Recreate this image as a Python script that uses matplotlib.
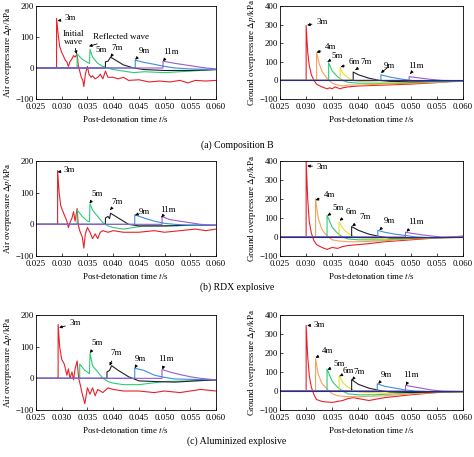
import matplotlib
matplotlib.use('Agg')
import matplotlib.pyplot as plt
from matplotlib.ticker import FormatStrFormatter, MultipleLocator

plt.rcParams['font.family'] = ['Liberation Serif', 'DejaVu Serif']
plt.rcParams['mathtext.fontset'] = 'stix'

# curves: (time s, overpressure kPa)
air_b = {
    '3m': [(0.025, 0), (0.0290, 0), (0.0290, 160), (0.0293, 110), (0.0296, 70), (0.0300, 50), (0.0303, 40),
           (0.0307, 25), (0.0310, 20), (0.0313, 5), (0.0316, 20), (0.0320, 30), (0.0323, 40), (0.0326, 35),
           (0.0330, 45), (0.0332, 10), (0.0335, -10), (0.0338, -30), (0.0341, -40), (0.0343, -60),
           (0.0346, -20), (0.0350, 5), (0.0353, -20), (0.0357, -30), (0.0360, -25), (0.0365, -35),
           (0.0370, -30), (0.0375, -20), (0.0380, -35), (0.0385, -10), (0.0390, -30), (0.0400, -30),
           (0.0410, -35), (0.0420, -30), (0.0430, -40), (0.0450, -38), (0.0470, -45), (0.0490, -42),
           (0.0510, -45), (0.0530, -40), (0.0545, -48), (0.0560, -40), (0.0580, -42), (0.0600, -40)],
    '5m': [(0.025, 0), (0.0330, 0), (0.0330, 45), (0.0340, 28), (0.0350, 18), (0.0354, 15), (0.0355, 60),
           (0.0360, 35), (0.0370, 15), (0.0380, 5), (0.0390, 0), (0.0400, -5), (0.0420, -10), (0.0440, -15),
           (0.0460, -12), (0.0500, -15), (0.0550, -10), (0.0600, -5)],
    '7m': [(0.025, 0), (0.0385, 0), (0.0385, 20), (0.0390, 22), (0.0395, 35), (0.0410, 20), (0.0420, 10),
           (0.0430, 5), (0.0440, 0), (0.0460, -5), (0.0500, -8), (0.0550, -8), (0.0600, -5)],
    '9m': [(0.025, 0), (0.0443, 0), (0.0443, 25), (0.0460, 18), (0.0480, 12), (0.0500, 5), (0.0520, 0),
           (0.0550, -3), (0.0600, -5)],
    '11m': [(0.025, 0), (0.0497, 0), (0.0497, 22), (0.0520, 15), (0.0540, 10), (0.0560, 5), (0.0580, 0),
            (0.0600, -3)],
}

ground_b = {
    '3m': [(0.025, 0), (0.0300, 0), (0.0300, 295), (0.0303, 150), (0.0306, 80), (0.0310, 30), (0.0315, 0),
           (0.0320, -20), (0.0330, -35), (0.0340, -45), (0.0345, -40), (0.0350, -45), (0.0355, -35),
           (0.0360, -40), (0.0365, -45), (0.0370, -40), (0.0380, -35), (0.0400, -30), (0.0450, -25),
           (0.0500, -20), (0.0550, -12), (0.0580, -5), (0.0600, -5)],
    '4m': [(0.025, 0), (0.0320, 0), (0.0320, 150), (0.0325, 90), (0.0330, 50), (0.0340, 10), (0.0350, -15),
           (0.0360, -25), (0.0370, -30), (0.0380, -25), (0.0400, -25), (0.0450, -20), (0.0500, -15),
           (0.0550, -10), (0.0600, -5)],
    '5m': [(0.025, 0), (0.0343, 0), (0.0343, 95), (0.0350, 50), (0.0360, 20), (0.0370, 0), (0.0380, -10),
           (0.0400, -15), (0.0450, -15), (0.0500, -12), (0.0550, -8), (0.0600, -5)],
    '6m': [(0.025, 0), (0.0365, 0), (0.0365, 70), (0.0370, 40), (0.0380, 15), (0.0390, 0), (0.0400, -5),
           (0.0450, -12), (0.0500, -10), (0.0550, -7), (0.0600, -4)],
    '7m': [(0.025, 0), (0.0390, 0), (0.0390, 45), (0.0400, 30), (0.0420, 12), (0.0440, 0), (0.0460, -5),
           (0.0500, -8), (0.0550, -5), (0.0600, -3)],
    '9m': [(0.025, 0), (0.0443, 0), (0.0443, 30), (0.0460, 18), (0.0480, 8), (0.0500, 0), (0.0530, -4),
           (0.0600, -3)],
    '11m': [(0.025, 0), (0.0497, 0), (0.0497, 20), (0.0520, 12), (0.0540, 5), (0.0560, 0), (0.0600, -2)],
}

air_rdx = {
    '3m': [(0.025, 0), (0.0292, 0), (0.0292, 170), (0.0295, 100), (0.0298, 60), (0.0300, 50), (0.0305, 30),
           (0.0310, 10), (0.0313, -10), (0.0316, 5), (0.0320, 20), (0.0323, 40), (0.0326, 10), (0.0330, 50),
           (0.0332, 0), (0.0335, -20), (0.0340, -40), (0.0343, -75), (0.0346, -30), (0.0350, -10),
           (0.0355, -25), (0.0360, -45), (0.0365, -30), (0.0370, -45), (0.0375, -25), (0.0380, -20),
           (0.0390, -25), (0.0400, -20), (0.0420, -25), (0.0450, -25), (0.0480, -20), (0.0500, -25),
           (0.0530, -20), (0.0560, -15), (0.0580, -20), (0.0600, -15)],
    '5m': [(0.025, 0), (0.0330, 0), (0.0330, 45), (0.0340, 25), (0.0350, 10), (0.0354, 8), (0.0355, 65),
           (0.0360, 45), (0.0370, 25), (0.0380, 5), (0.0390, -5), (0.0400, -10), (0.0420, -15),
           (0.0440, -10), (0.0460, -5), (0.0500, -5), (0.0550, -3), (0.0600, -3)],
    '7m': [(0.025, 0), (0.0385, 0), (0.0385, 20), (0.0390, 25), (0.0393, 18), (0.0395, 35), (0.0410, 20),
           (0.0420, 10), (0.0430, 0), (0.0450, -5), (0.0500, -5), (0.0550, -3), (0.0600, -3)],
    '9m': [(0.025, 0), (0.0442, 0), (0.0442, 30), (0.0460, 20), (0.0480, 10), (0.0500, 3), (0.0520, 0),
           (0.0550, -3), (0.0600, -3)],
    '11m': [(0.025, 0), (0.0495, 0), (0.0495, 25), (0.0510, 15), (0.0530, 10), (0.0550, 5), (0.0570, 0),
            (0.0600, -3)],
}

ground_rdx = {
    '3m': [(0.025, 0), (0.0300, 0), (0.0300, 400), (0.0303, 200), (0.0306, 80), (0.0310, 20), (0.0315, -20),
           (0.0320, -40), (0.0330, -55), (0.0340, -65), (0.0350, -55), (0.0360, -60), (0.0370, -50),
           (0.0380, -45), (0.0400, -40), (0.0420, -35), (0.0450, -25), (0.0500, -15), (0.0550, -5),
           (0.0580, 0), (0.0600, 5)],
    '4m': [(0.025, 0), (0.0318, 0), (0.0318, 200), (0.0323, 100), (0.0330, 40), (0.0340, 5), (0.0350, -15),
           (0.0360, -20), (0.0380, -25), (0.0400, -25), (0.0450, -20), (0.0500, -10), (0.0550, -5),
           (0.0600, 0)],
    '5m': [(0.025, 0), (0.0340, 0), (0.0340, 115), (0.0350, 50), (0.0360, 20), (0.0370, 0), (0.0380, -10),
           (0.0400, -15), (0.0450, -15), (0.0500, -8), (0.0550, -3), (0.0600, 0)],
    '6m': [(0.025, 0), (0.0363, 0), (0.0363, 80), (0.0370, 45), (0.0380, 20), (0.0390, 5), (0.0400, -5),
           (0.0450, -10), (0.0500, -8), (0.0600, -2)],
    '7m': [(0.025, 0), (0.0387, 0), (0.0387, 55), (0.0400, 35), (0.0420, 15), (0.0440, 3), (0.0460, -5),
           (0.0500, -5), (0.0600, -2)],
    '9m': [(0.025, 0), (0.0437, 0), (0.0437, 35), (0.0450, 25), (0.0470, 15), (0.0490, 8), (0.0510, 0),
           (0.0540, -4), (0.0600, -2)],
    '11m': [(0.025, 0), (0.0490, 0), (0.0490, 25), (0.0505, 18), (0.0520, 12), (0.0540, 5), (0.0560, 0),
            (0.0600, 0)],
}

air_al = {
    '3m': [(0.025, 0), (0.0293, 0), (0.0293, 170), (0.0296, 100), (0.0300, 60), (0.0305, 45), (0.0310, 10),
           (0.0313, 30), (0.0316, 0), (0.0320, 20), (0.0323, -5), (0.0326, 30), (0.0330, 55), (0.0333, 0),
           (0.0336, -20), (0.0340, -50), (0.0345, -80), (0.0350, -30), (0.0355, -50), (0.0360, -30),
           (0.0365, -55), (0.0370, -35), (0.0380, -45), (0.0390, -30), (0.0400, -35), (0.0420, -40),
           (0.0450, -40), (0.0480, -45), (0.0500, -40), (0.0530, -45), (0.0550, -40), (0.0570, -35),
           (0.0600, -40)],
    '5m': [(0.025, 0), (0.0335, 0), (0.0335, 45), (0.0345, 25), (0.0354, 15), (0.0355, 80), (0.0360, 40),
           (0.0370, 20), (0.0380, 0), (0.0390, -10), (0.0400, -15), (0.0420, -20), (0.0450, -20),
           (0.0500, -10), (0.0550, -8), (0.0600, -5)],
    '7m': [(0.025, 0), (0.0388, 0), (0.0388, 20), (0.0393, 25), (0.0397, 40), (0.0410, 25), (0.0430, 5),
           (0.0450, -8), (0.0480, -10), (0.0520, -12), (0.0560, -8), (0.0600, -5)],
    '9m': [(0.025, 0), (0.0442, 0), (0.0442, 32), (0.0460, 25), (0.0480, 10), (0.0500, 3), (0.0520, -2),
           (0.0600, -5)],
    '11m': [(0.025, 0), (0.0495, 0), (0.0495, 28), (0.0510, 20), (0.0530, 12), (0.0550, 5), (0.0570, 0),
            (0.0600, -5)],
}

ground_al = {
    '3m': [(0.025, 0), (0.0300, 0), (0.0300, 345), (0.0303, 180), (0.0306, 80), (0.0310, 20), (0.0315, -20),
           (0.0320, -45), (0.0330, -55), (0.0340, -58), (0.0350, -60), (0.0360, -55), (0.0370, -50),
           (0.0380, -40), (0.0390, -35), (0.0400, -40), (0.0410, -45), (0.0420, -50), (0.0430, -45),
           (0.0450, -35), (0.0500, -20), (0.0550, -8), (0.0600, -5)],
    '4m': [(0.025, 0), (0.0318, 0), (0.0318, 170), (0.0323, 90), (0.0330, 40), (0.0340, 10), (0.0350, -15),
           (0.0360, -25), (0.0380, -30), (0.0400, -30), (0.0450, -25), (0.0500, -15), (0.0550, -8),
           (0.0600, -5)],
    '5m': [(0.025, 0), (0.0340, 0), (0.0340, 115), (0.0350, 50), (0.0360, 20), (0.0370, 0), (0.0380, -15),
           (0.0400, -20), (0.0430, -20), (0.0500, -10), (0.0550, -5), (0.0600, -3)],
    '6m': [(0.025, 0), (0.0363, 0), (0.0363, 80), (0.0370, 45), (0.0380, 20), (0.0390, 5), (0.0400, -5),
           (0.0450, -12), (0.0500, -8), (0.0600, -3)],
    '7m': [(0.025, 0), (0.0387, 0), (0.0387, 60), (0.0400, 35), (0.0420, 15), (0.0440, 3), (0.0460, -5),
           (0.0500, -8), (0.0600, -3)],
    '9m': [(0.025, 0), (0.0436, 0), (0.0436, 38), (0.0450, 25), (0.0470, 15), (0.0490, 5), (0.0510, 0),
           (0.0550, -4), (0.0600, -3)],
    '11m': [(0.025, 0), (0.0490, 0), (0.0490, 30), (0.0505, 22), (0.0520, 15), (0.0540, 5), (0.0560, 0),
            (0.0600, -2)],
}

colors = {'3m': '#e8202a', '4m': '#f5a35a', '5m': '#2ecc75', '6m': '#ecdc3a',
          '7m': '#202028', '9m': '#3a8fdc', '11m': '#9a5ad0'}

# (label, text position, arrow tip)
labels_air_b = [('3m', (0.0305, 160), (0.0292, 152)), ('5m', (0.0365, 58), None),
                ('7m', (0.0397, 66), (0.0395, 35)), ('9m', (0.0449, 55), (0.0443, 27)),
                ('11m', (0.0498, 53), (0.0497, 22))]
labels_ground_b = [('3m', (0.0319, 313), (0.0302, 297)), ('4m', (0.0336, 177), (0.0320, 150)),
                   ('5m', (0.0349, 132), (0.0341, 100)), ('6m', (0.0381, 97), (0.0366, 72)),
                   ('7m', (0.0403, 97), (0.0394, 55)), ('9m', (0.0448, 76), (0.0443, 40)),
                   ('11m', (0.0496, 76), (0.0499, 35))]
labels_air_rdx = [('3m', (0.0303, 171), (0.0292, 165)), ('5m', (0.0358, 97), (0.0354, 66)),
                  ('7m', (0.0397, 71), (0.0394, 45)), ('9m', (0.0449, 40), (0.0443, 29)),
                  ('11m', (0.0491, 45), (0.0494, 22))]
labels_ground_rdx = [('3m', (0.0320, 370), (0.0302, 374)), ('4m', (0.0333, 220), (0.0318, 194)),
                     ('5m', (0.0351, 152), (0.0341, 112)), ('6m', (0.0376, 134), (0.0364, 86)),
                     ('7m', (0.0401, 103), (0.0388, 57)), ('9m', (0.0448, 82), (0.0440, 36)),
                     ('11m', (0.0496, 77), (0.0492, 28))]
labels_air_al = [('3m', (0.0315, 174), (0.0295, 160)), ('5m', (0.0358, 112), (0.0355, 80)),
                 ('7m', (0.0394, 80), (0.0393, 40)), ('9m', (0.0442, 62), (0.0442, 32)),
                 ('11m', (0.0488, 62), (0.0496, 28))]
labels_ground_al = [('3m', (0.0314, 348), (0.0302, 344)), ('4m', (0.0330, 208), (0.0318, 175)),
                    ('5m', (0.0352, 142), (0.0341, 112)), ('6m', (0.0370, 103), (0.0364, 78)),
                    ('7m', (0.0390, 98), (0.0388, 58)), ('9m', (0.0443, 85), (0.0438, 38)),
                    ('11m', (0.0486, 82), (0.0491, 30))]

captions = ['(a) Composition B', '(b) RDX explosive', '(c) Aluminized explosive']

fig = plt.figure(figsize=(4.74, 4.57), dpi=100)

W, H = 474, 457
rows = [(6, 99), (161, 256), (315, 410)]
caption_y = [145, 287, 441]


def setup(ax, ymin, ymax, ystep, ylabel):
    ax.set_xlim(0.025, 0.060)
    ax.set_ylim(ymin, ymax)
    ax.xaxis.set_major_locator(MultipleLocator(0.005))
    ax.xaxis.set_major_formatter(FormatStrFormatter('%.3f'))
    ax.yaxis.set_major_locator(MultipleLocator(ystep))
    ax.tick_params(direction='in', length=2, width=0.5, labelsize=6.3, pad=1.5)
    ax.tick_params(axis='x', pad=3)
    for s in ax.spines.values():
        s.set_linewidth(0.6)
    ax.set_xlabel('Post-detonation time $t$/s', fontsize=6.5, labelpad=2)
    ax.set_ylabel(ylabel, fontsize=6.5, labelpad=1)


def draw(ax, curves, labels, zero_color=None):
    for name, pts in curves.items():
        ts = [p[0] for p in pts]
        ps = [p[1] for p in pts]
        ax.plot(ts, ps, color=colors[name], lw=0.8)
    if zero_color:
        ax.axhline(0, color=zero_color, lw=0.8)
    for name, txt, tip in labels:
        if tip is None:
            ax.text(txt[0], txt[1], name, fontsize=6.5, ha='left', va='center')
        else:
            ax.annotate(name, xy=tip, xytext=txt, fontsize=6.5, ha='left', va='center',
                        arrowprops=dict(arrowstyle='-|>', color='k', lw=0.6, mutation_scale=4,
                                        shrinkA=1, shrinkB=0))


panels = [(air_b, labels_air_b, ground_b, labels_ground_b),
          (air_rdx, labels_air_rdx, ground_rdx, labels_ground_rdx),
          (air_al, labels_air_al, ground_al, labels_ground_al)]

for i, (air, lab_a, ground, lab_g) in enumerate(panels):
    top, bot = rows[i]
    ax1 = fig.add_axes([36 / W, 1 - bot / H, 180 / W, (bot - top) / H])
    ax2 = fig.add_axes([280 / W, 1 - bot / H, 183 / W, (bot - top) / H])
    setup(ax1, -100, 200, 100, 'Air overpressure $\\Delta p$/kPa')
    setup(ax2, -100, 400, 100, 'Ground overpressure $\\Delta p$/kPa')
    draw(ax1, air, lab_a)
    draw(ax2, ground, lab_g, zero_color='#2b2b80')
    fig.text(0.5, 1 - caption_y[i] / H, captions[i], ha='center', va='center', fontsize=7)
    if i == 0:
        ax1.annotate('Initial\nwave', xy=(0.0329, 45), xytext=(0.0322, 97), fontsize=6.5,
                     ha='center', va='center', linespacing=0.9,
                     arrowprops=dict(arrowstyle='-|>', color='k', lw=0.6, mutation_scale=4,
                                     shrinkA=0, shrinkB=0))
        ax1.annotate('Reflected wave', xy=(0.0353, 70), xytext=(0.0361, 101), fontsize=6.5,
                     ha='left', va='center',
                     arrowprops=dict(arrowstyle='-|>', color='k', lw=0.6, mutation_scale=4,
                                     shrinkA=1, shrinkB=0))

fig.savefig('out.png', dpi=100)
